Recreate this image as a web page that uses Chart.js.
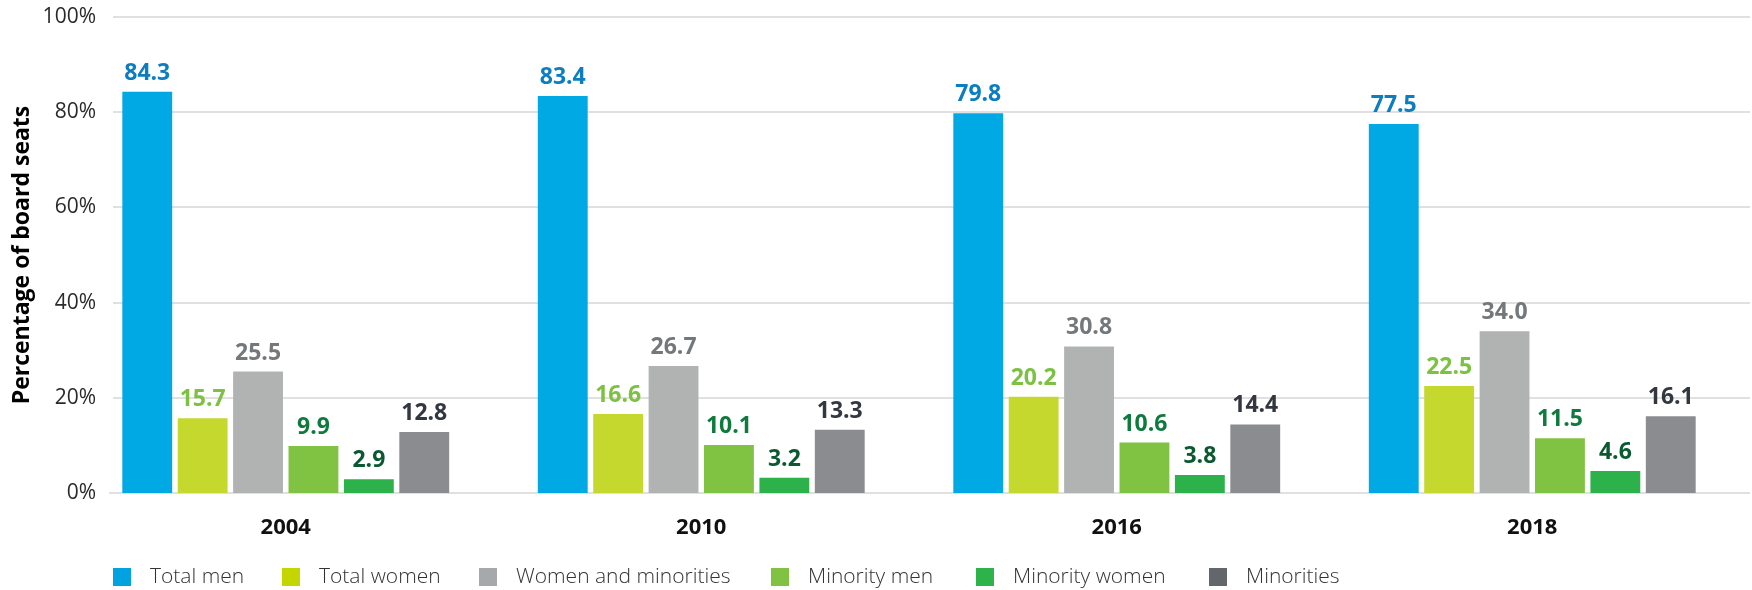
<!DOCTYPE html>
<html><head><meta charset="utf-8">
<script src="https://cdn.jsdelivr.net/npm/chart.js@4"></script>
<style>html,body{margin:0;padding:0;background:#fff;}#wrap{width:1752px;height:590px;position:relative}</style>
</head><body><div id="wrap"><canvas id="c" width="1752" height="590"></canvas></div>
<script>
const categories = ['2004', '2010', '2016', '2018'];
const seriesNames = ['Total men', 'Total women', 'Women and minorities', 'Minority men', 'Minority women', 'Minorities'];
const totalMen = [84.3, 83.4, 79.8, 77.5];
const totalWomen = [15.7, 16.6, 20.2, 22.5];
const womenAndMinorities = [25.5, 26.7, 30.8, 34.0];
const minorityMen = [9.9, 10.1, 10.6, 11.5];
const minorityWomen = [2.9, 3.2, 3.8, 4.6];
const minorities = [12.8, 13.3, 14.4, 16.1];
const yTickValues = [0, 20, 40, 60, 80, 100];
const yAxisTitle = 'Percentage of board seats';

const barColors = ['#00a9e3', '#c4d82e', '#b1b3b3', '#80c242', '#2db14b', '#8a8c8f'];
const labelColors = ['#0b7dc0', '#7dc142', '#75787b', '#0f7a3e', '#0b5930', '#33373f'];
const legendColors = ['#00a3e0', '#c4d600', '#a7a8aa', '#80c342', '#2db34a', '#63666a'];
const seriesValues = [totalMen, totalWomen, womenAndMinorities, minorityMen, minorityWomen, minorities];

const FONT = '"Open Sans", "Noto Sans", sans-serif';
const LEGEND_X = [113, 282, 479, 771, 976, 1209];

const gridPlugin = {
  id: 'gridPlugin',
  beforeDatasetsDraw(chart) {
    const ctx = chart.ctx, y = chart.scales.y, ca = chart.chartArea;
    ctx.save();
    ctx.strokeStyle = '#e0e0e0';
    ctx.lineWidth = 2;
    yTickValues.forEach(v => {
      const py = Math.round(y.getPixelForValue(v));
      ctx.beginPath();
      ctx.moveTo(ca.left + (v === 0 ? 31 : 35), py);
      ctx.lineTo(chart.width - 2, py);
      ctx.stroke();
    });
    ctx.restore();
  }
};

const valueLabelPlugin = {
  id: 'valueLabels',
  afterDatasetsDraw(chart) {
    const ctx = chart.ctx;
    ctx.save();
    ctx.font = 'bold 23px ' + FONT;
    ctx.textAlign = 'center';
    ctx.textBaseline = 'alphabetic';
    chart.data.datasets.forEach((ds, i) => {
      const meta = chart.getDatasetMeta(i);
      ctx.fillStyle = labelColors[i];
      meta.data.forEach((el, j) => {
        ctx.fillText(ds.data[j].toFixed(1), el.x, el.y - 12);
      });
    });
    ctx.restore();
  }
};

const legendPlugin = {
  id: 'customLegend',
  afterDraw(chart) {
    const ctx = chart.ctx;
    ctx.save();
    ctx.font = '300 21px ' + FONT;
    ctx.textBaseline = 'middle';
    ctx.textAlign = 'left';
    const cy = 577;
    chart.data.datasets.forEach((ds, i) => {
      const x = LEGEND_X[i];
      ctx.fillStyle = legendColors[i];
      ctx.fillRect(x, cy - 9, 18, 18);
      ctx.fillStyle = '#333333';
      ctx.fillText(ds.label, x + 18 + 19, cy);
    });
    ctx.restore();
  }
};

new Chart(document.getElementById('c'), {
  type: 'bar',
  data: {
    labels: categories,
    datasets: seriesNames.map((name, i) => ({
      label: name,
      data: seriesValues[i],
      backgroundColor: barColors[i],
      borderWidth: 0,
      categoryPercentage: 0.8,
      barPercentage: 0.9
    }))
  },
  options: {
    responsive: false,
    devicePixelRatio: 1,
    animation: false,
    layout: { padding: { top: 17, right: 12, bottom: 0, left: 0 } },
    plugins: { legend: { display: false }, tooltip: { enabled: false } },
    scales: {
      x: {
        grid: { display: false, drawTicks: false },
        border: { display: false },
        ticks: { font: { family: FONT, size: 22, weight: 'bold' }, color: '#111111', padding: 22 },
        afterFit(s) { s.height = 97; }
      },
      y: {
        min: 0, max: 100,
        grid: { display: false, drawTicks: false },
        border: { display: false },
        ticks: {
          stepSize: 20,
          padding: -18,
          font: { family: FONT, size: 21 },
          color: '#2a2a2a',
          callback: v => v + '%'
        },
        title: {
          display: true, text: yAxisTitle,
          font: { family: FONT, size: 23, weight: 'bold' },
          color: '#000000',
          padding: { top: 9, bottom: 0 }
        },
        afterFit(s) { s.width = 78; s._computeLabelArea = () => undefined; }
      }
    }
  },
  plugins: [gridPlugin, valueLabelPlugin, legendPlugin]
});
</script></body></html>
